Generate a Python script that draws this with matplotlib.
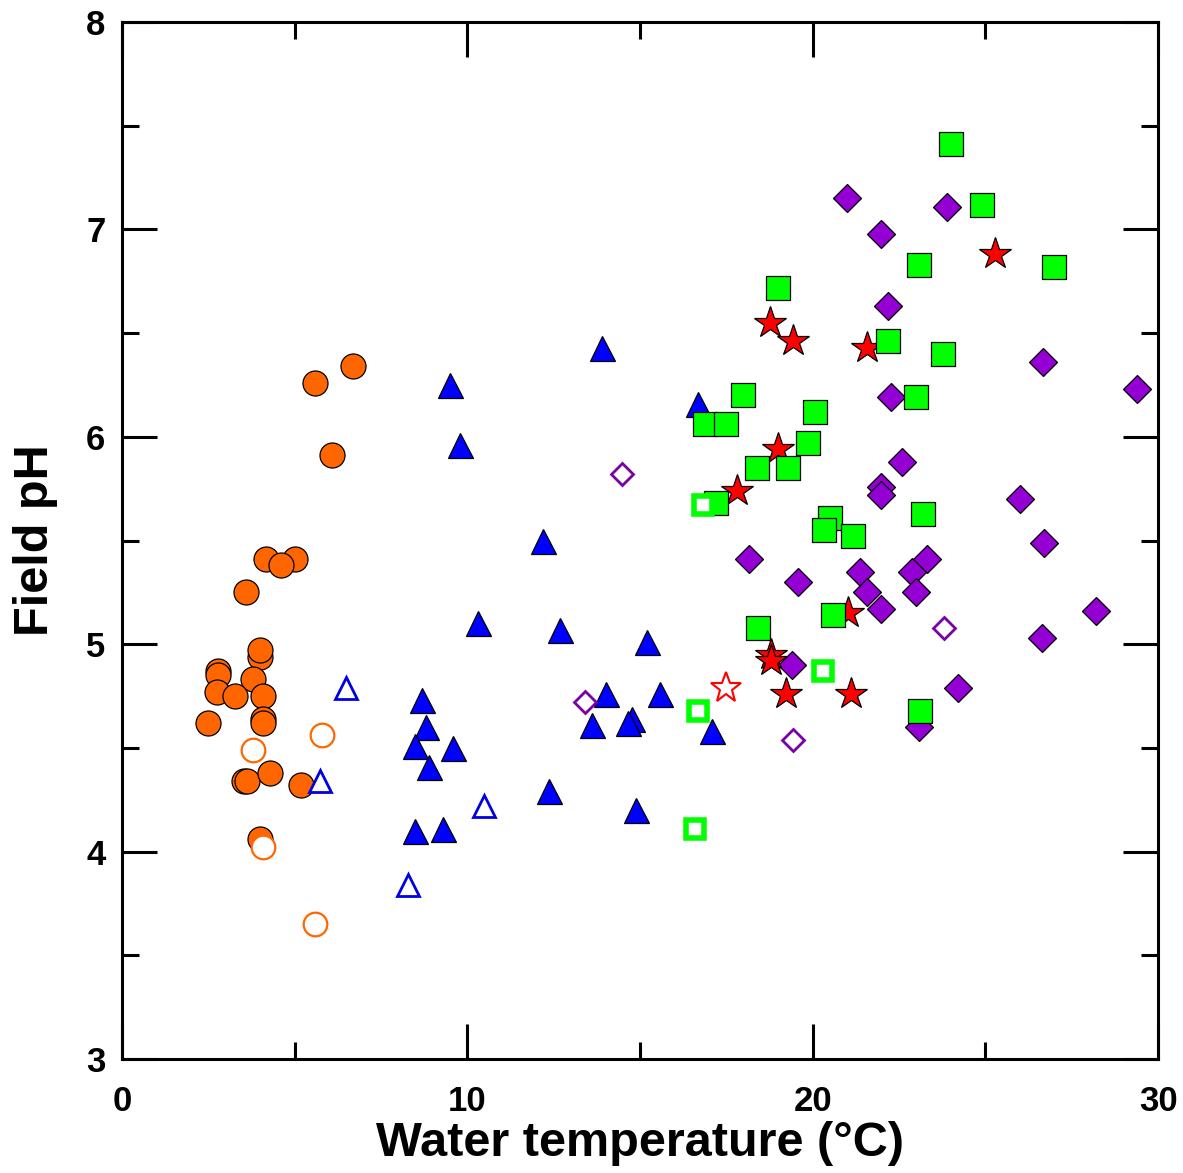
import matplotlib
matplotlib.use('Agg')
import matplotlib.pyplot as plt
from matplotlib.ticker import MultipleLocator

plt.rcParams['font.family'] = ['Liberation Sans', 'DejaVu Sans']
plt.rcParams['font.weight'] = 'bold'

# Orange circles (filled / open)
circle_x = [5.59, 6.69, 6.08, 3.59, 4.17, 5.01, 4.60, 4.00, 4.00, 2.78, 2.78, 2.75, 3.79,
            3.27, 4.08, 2.49, 4.08, 4.08, 3.53, 3.62, 4.29, 5.18, 4.00]
circle_y = [6.26, 6.34, 5.91, 5.25, 5.41, 5.41, 5.38, 4.94, 4.97, 4.87, 4.85, 4.77, 4.83,
            4.75, 4.75, 4.62, 4.64, 4.62, 4.34, 4.34, 4.38, 4.32, 4.06]
circle_open_x = [3.79, 5.79, 4.08, 5.59]
circle_open_y = [4.49, 4.56, 4.02, 3.65]

# Blue triangles
tri_x = [13.90, 9.50, 9.79, 16.68, 12.19, 10.31, 12.68, 15.20, 15.58, 14.02, 14.77, 14.65,
         13.61, 17.09, 8.69, 8.80, 8.49, 9.59, 8.89, 12.37, 14.89, 8.49, 9.30]
tri_y = [6.43, 6.25, 5.96, 6.16, 5.50, 5.10, 5.07, 5.01, 4.76, 4.76, 4.64, 4.62,
         4.61, 4.58, 4.73, 4.60, 4.51, 4.50, 4.41, 4.29, 4.20, 4.10, 4.11]
tri_open_x = [6.49, 5.73, 10.48, 8.28]
tri_open_y = [4.79, 4.34, 4.22, 3.84]

# Purple diamonds
dia_x = [21.00, 23.89, 21.98, 22.18, 26.67, 29.39, 22.27, 22.59, 21.98, 21.98, 26.00, 26.70,
         18.16, 23.31, 22.88, 21.37, 19.58, 21.58, 23.00, 21.98, 28.21, 26.64, 19.40, 24.21, 23.08]
dia_y = [7.15, 7.11, 6.98, 6.63, 6.36, 6.23, 6.19, 5.88, 5.76, 5.72, 5.70, 5.49,
         5.41, 5.41, 5.35, 5.35, 5.30, 5.25, 5.25, 5.17, 5.16, 5.03, 4.90, 4.79, 4.60]
dia_open_x = [14.48, 13.41, 23.81, 19.43]
dia_open_y = [5.82, 4.72, 5.08, 4.54]

# Red stars
star_x = [25.28, 18.77, 19.43, 21.58, 19.00, 17.81, 21.03, 18.80, 18.80, 19.23, 21.11]
star_y = [6.88, 6.55, 6.46, 6.43, 5.94, 5.74, 5.15, 4.95, 4.92, 4.76, 4.76]
star_open_x = [17.49]
star_open_y = [4.79]

# Green squares
sq_x = [24.00, 24.90, 26.99, 23.08, 18.99, 22.18, 23.78, 23.00, 17.98, 20.07, 19.87, 16.88,
        17.49, 18.39, 19.29, 17.20, 20.50, 20.33, 21.17, 23.20, 18.42, 20.59, 23.11]
sq_y = [7.41, 7.12, 6.82, 6.83, 6.72, 6.46, 6.40, 6.19, 6.20, 6.12, 5.97, 6.06,
        6.06, 5.85, 5.85, 5.68, 5.61, 5.55, 5.52, 5.63, 5.08, 5.14, 4.68]
sq_open_x = [16.83, 20.30, 16.68, 16.59]
sq_open_y = [5.67, 4.87, 4.68, 4.11]

fig = plt.figure(figsize=(11.83, 11.73), dpi=100)
ax = fig.add_axes([0.1031, 0.0972, 0.8758, 0.8840])

ax.plot(circle_x, circle_y, 'o', ms=18, mfc='#FF6600', mec='black', mew=0.9, ls='none')
ax.plot(circle_open_x, circle_open_y, 'o', ms=17, mfc='white', mec='#FF6600', mew=1.6, ls='none')
ax.plot(tri_x, tri_y, '^', ms=18, mfc='#0000FF', mec='black', mew=0.9, ls='none')
ax.plot(tri_open_x, tri_open_y, '^', ms=16, mfc='white', mec='#0000E0', mew=2.0, ls='none')
ax.plot(dia_x, dia_y, 'D', ms=14.5, mfc='#9400D3', mec='black', mew=0.9, ls='none')
ax.plot(dia_open_x, dia_open_y, 'D', ms=11.5, mfc='white', mec='#7A00A8', mew=2.0, ls='none')
ax.plot(star_x, star_y, '*', ms=24, mfc='#FF0000', mec='black', mew=0.9, ls='none')
ax.plot(star_open_x, star_open_y, '*', ms=23, mfc='white', mec='#FF0000', mew=1.5, ls='none')
ax.plot(sq_x, sq_y, 's', ms=17.5, mfc='#00FF00', mec='black', mew=0.9, ls='none')
ax.plot(sq_open_x, sq_open_y, 's', ms=13.5, mfc='white', mec='#00FF00', mew=4.0, ls='none')

ax.set_xlim(0, 30)
ax.set_ylim(3, 8)
ax.xaxis.set_major_locator(MultipleLocator(10))
ax.xaxis.set_minor_locator(MultipleLocator(5))
ax.yaxis.set_major_locator(MultipleLocator(1))
ax.yaxis.set_minor_locator(MultipleLocator(0.5))
ax.tick_params(which='both', direction='in', top=True, right=True, width=2.2,
               labelsize=25)
ax.tick_params(axis='x', which='both', pad=19)
ax.tick_params(axis='y', which='both', pad=12)
ax.tick_params(which='major', length=25)
ax.tick_params(which='minor', length=12.5)
for s in ax.spines.values():
    s.set_linewidth(2.2)

ax.set_xlabel('Water temperature (°C)', fontsize=35, fontweight='bold', labelpad=2)
ax.set_ylabel('Field pH', fontsize=35, fontweight='bold', labelpad=20)

plt.savefig('out.png', dpi=100)
